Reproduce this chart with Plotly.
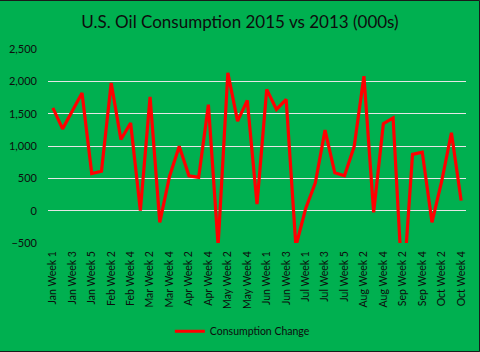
import plotly.graph_objects as go

months = [("Jan", 5), ("Feb", 4), ("Mar", 4), ("Apr", 4), ("May", 5),
          ("Jun", 4), ("Jul", 5), ("Aug", 4), ("Sep", 4), ("Oct", 4)]
categories = [f"{m} Week {w}" for m, n in months for w in range(1, n + 1)]

consumption_change = [
    1590, 1265, 1540, 1820, 575, 610, 1975, 1100, 1355, 0,
    1760, -180, 530, 995, 540, 515, 1640, -540, 2130, 1385,
    1705, 100, 1875, 1565, 1720, -550, 30, 430, 1245, 585,
    540, 995, 2080, -25, 1345, 1435, -1300, 870, 905, -180,
    455, 1205, 155,
]

tick_labels = categories[::2]

GREEN = "#00B050"
FONT = "Lato"

fig = go.Figure()
fig.add_trace(go.Scatter(
    x=categories, y=consumption_change, mode="lines",
    name="Consumption Change",
    line=dict(color="#FF0000", width=3.2),
))

fig.update_layout(
    width=480, height=352,
    paper_bgcolor=GREEN, plot_bgcolor=GREEN,
    margin=dict(l=48, r=14, t=49, b=109, autoexpand=False),
    font=dict(family=FONT, color="#0d0d0d", size=11),
    title=dict(text="U.S. Oil Consumption 2015 vs 2013 (000s)",
               x=0.5, xanchor="center", y=1 - 22 / 352, yanchor="middle",
               font=dict(family=FONT, size=17, color="#0d0d0d")),
    showlegend=True,
    legend=dict(orientation="h", x=0.465, xanchor="center", y=-0.455, yanchor="middle",
                bgcolor="rgba(0,0,0,0)", itemwidth=30,
                font=dict(family=FONT, size=10.5, color="#0d0d0d")),
    xaxis=dict(type="category", categoryorder="array", categoryarray=categories,
               range=[-0.5, len(categories) - 0.5], automargin=False,
               tickmode="array", tickvals=tick_labels, ticktext=tick_labels,
               tickangle=-90, showgrid=False, zeroline=False, showline=False,
               ticks="", ticklabelstandoff=5,
               tickfont=dict(family=FONT, size=10.5, color="#0d0d0d")),
    yaxis=dict(range=[-500, 2500], tickvals=[-500, 0, 500, 1000, 1500, 2000, 2500],
               tickformat=",", showgrid=True, gridcolor="#E6E6E6", gridwidth=1,
               zeroline=False, showline=False, ticks="", ticklabelstandoff=10,
               automargin=False,
               tickfont=dict(family=FONT, size=11, color="#0d0d0d")),
    shapes=[dict(type="rect", xref="paper", yref="paper",
                 x0=-48.5 / 418, x1=(479.5 - 48) / 418,
                 y0=-(351.5 - 243) / 194, y1=(243 - 0.5) / 194,
                 line=dict(color="#1a1a1a", width=1), fillcolor="rgba(0,0,0,0)",
                 layer="above")],
)

fig.write_html("out.html")
